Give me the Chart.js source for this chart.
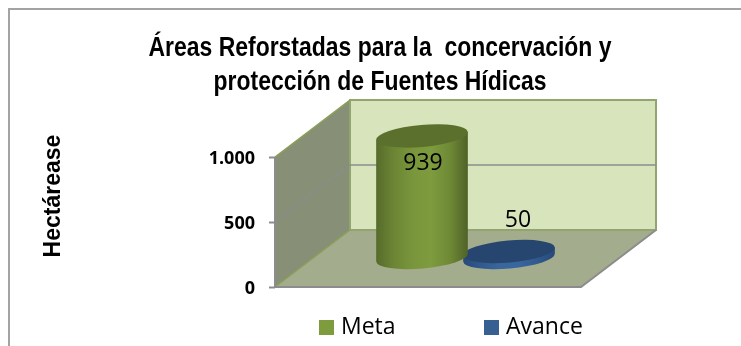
<!DOCTYPE html>
<html>

<head>
    <title>Áreas Reforstadas</title>
    <meta charset="utf-8" />
    <style>
        body { margin: 0; background: #fff; }
        canvas { display: block; }
    </style>
</head>

<body>
    <canvas id="myChart" width="741" height="346"></canvas>

    <script src="https://cdn.jsdelivr.net/npm/chart.js"></script>
    <script type="text/javascript">
        const categories = ['Hectáreas'];
        const metaValues = [939];
        const avanceValues = [50];
        const tickValues = [0, 500, 1000];
        const tickLabels = ['0', '500', '1.000'];
        const titleLines = ['Áreas Reforstadas para la  concervación y', 'protección de Fuentes Hídicas'];
        const axisTitle = 'Hectárease';

        // how far the 3D box and the cylinders are pushed back from the front plane
        const BOX_DX = 75, BOX_DY = -57;
        const BAR_DX = 37.5, BAR_DY = -29;
        const TILT = -5 * Math.PI / 180;
        const TITLE_SQUEEZE = 0.85; // no narrow font installed, so the title is squeezed
        const LABEL_FONT = '23px "Open Sans", sans-serif';

        function polygon(ctx, pts, fill, stroke) {
            ctx.beginPath();
            pts.forEach((p, i) => i ? ctx.lineTo(p[0], p[1]) : ctx.moveTo(p[0], p[1]));
            ctx.closePath();
            ctx.fillStyle = fill;
            ctx.fill();
            if (stroke) {
                ctx.strokeStyle = stroke;
                ctx.lineWidth = 2;
                ctx.stroke();
            }
        }

        function drawCylinder(ctx, cx, topY, baseY, rx, colors) {
            const ry = 11;
            const ex = rx * Math.cos(TILT), ey = rx * Math.sin(TILT);
            const grad = ctx.createLinearGradient(cx - rx, 0, cx + rx, 0);
            colors.stops.forEach((c, i) => grad.addColorStop(i / (colors.stops.length - 1), c));
            ctx.beginPath();
            ctx.moveTo(cx - ex, topY - ey);
            ctx.lineTo(cx - ex, baseY - ey);
            ctx.ellipse(cx, baseY, rx, ry, TILT, Math.PI, 0, true);
            ctx.lineTo(cx + ex, topY + ey);
            ctx.closePath();
            ctx.fillStyle = grad;
            ctx.fill();
            ctx.beginPath();
            ctx.ellipse(cx, topY, rx, ry, TILT, 0, Math.PI * 2);
            ctx.fillStyle = colors.top;
            ctx.fill();
        }

        const cylinderColors = [
            { stops: ['#566b2b', '#6c8635', '#7a963c', '#7e9b3e', '#6f8a36', '#4f6227'], top: '#5c702e' },
            { stops: ['#28497a', '#315a8e', '#3a669e', '#3a669e', '#315a8e', '#28497a'], top: '#27466f' }
        ];
        const labelOffsets = [27, -31];
        const labelShift = [1, 9];

        const box3d = {
            id: 'box3d',
            beforeDraw(chart) {
                const ctx = chart.ctx;
                ctx.save();
                ctx.fillStyle = '#a3a3a3';
                ctx.fillRect(8, 8, chart.width - 8, 2);
                ctx.fillRect(8, 8, 2, chart.height - 8);
                ctx.restore();
                // squeeze the title around its own centre
                const block = chart.titleBlock;
                if (!block._squeezed) {
                    const drawTitle = block.draw.bind(block);
                    block.draw = () => {
                        const mid = (block.left + block.right) / 2;
                        ctx.save();
                        ctx.translate(mid, 0);
                        ctx.scale(TITLE_SQUEEZE, 1);
                        ctx.translate(-mid, 0);
                        drawTitle();
                        ctx.restore();
                    };
                    block._squeezed = true;
                }
            },
            beforeDatasetsDraw(chart) {
                const ctx = chart.ctx;
                const y = chart.scales.y;
                const l = chart.chartArea.left, r = chart.chartArea.right;
                const y0 = y.getPixelForValue(0);
                const yMax = y.getPixelForValue(tickValues[tickValues.length - 1]);
                ctx.save();
                // floor
                polygon(ctx, [[l, y0], [r, y0], [r + BOX_DX, y0 + BOX_DY], [l + BOX_DX, y0 + BOX_DY]], '#a3ad8d');
                // left wall
                polygon(ctx, [[l, y0], [l, yMax], [l + BOX_DX, yMax + BOX_DY], [l + BOX_DX, y0 + BOX_DY]], '#878f77');
                // back wall
                polygon(ctx, [[l + BOX_DX, yMax + BOX_DY], [r + BOX_DX, yMax + BOX_DY], [r + BOX_DX, y0 + BOX_DY], [l + BOX_DX, y0 + BOX_DY]], '#d7e4bc', '#93a56f');
                // gridlines on the walls
                ctx.strokeStyle = '#8c8c8c';
                ctx.lineWidth = 1.5;
                tickValues.slice(1, -1).forEach((v) => {
                    const py = y.getPixelForValue(v);
                    ctx.beginPath();
                    ctx.moveTo(l, py);
                    ctx.lineTo(l + BOX_DX, py + BOX_DY);
                    ctx.lineTo(r + BOX_DX, py + BOX_DY);
                    ctx.stroke();
                });
                // wall edges
                ctx.strokeStyle = '#8aa055';
                ctx.beginPath();
                ctx.moveTo(l, yMax);
                ctx.lineTo(l + BOX_DX, yMax + BOX_DY);
                ctx.moveTo(l, y0);
                ctx.lineTo(l + BOX_DX, y0 + BOX_DY);
                ctx.stroke();
                ctx.strokeStyle = '#8c8c8c';
                ctx.lineWidth = 2;
                ctx.beginPath();
                ctx.moveTo(l, yMax);
                ctx.lineTo(l, y0);
                ctx.lineTo(r, y0);
                ctx.lineTo(r + BOX_DX, y0 + BOX_DY);
                ctx.stroke();
                ctx.restore();
            },
            beforeDatasetDraw(chart, args) {
                const ctx = chart.ctx;
                const bar = args.meta.data[0];
                ctx.save();
                drawCylinder(ctx, bar.x + BAR_DX, bar.y + BAR_DY, bar.base + BAR_DY, bar.width / 2, cylinderColors[args.index]);
                ctx.restore();
                return false;
            },
            afterDatasetsDraw(chart) {
                const ctx = chart.ctx;
                ctx.save();
                ctx.font = LABEL_FONT;
                ctx.fillStyle = '#000';
                ctx.textAlign = 'center';
                ctx.textBaseline = 'middle';
                chart.data.datasets.forEach((ds, i) => {
                    const bar = chart.getDatasetMeta(i).data[0];
                    ctx.fillText(String(ds.data[0]), bar.x + BAR_DX + labelShift[i], bar.y + BAR_DY + labelOffsets[i]);
                });
                // legend: the built-in one cannot space items this far apart without growing tall
                const legendX = [319, 484];
                ctx.textAlign = 'left';
                chart.data.datasets.forEach((ds, i) => {
                    ctx.fillStyle = ds.backgroundColor;
                    ctx.fillRect(legendX[i], 320, 15, 15);
                    ctx.fillStyle = '#000';
                    ctx.fillText(ds.label, legendX[i] + 22, 327);
                });
                ctx.restore();
            }
        };

        new Chart(document.getElementById('myChart'), {
            type: 'bar',
            data: {
                labels: categories,
                datasets: [
                    { label: 'Meta', data: metaValues, backgroundColor: '#7e9b3e' },
                    { label: 'Avance', data: avanceValues, backgroundColor: '#376092' }
                ]
            },
            plugins: [box3d],
            options: {
                responsive: false,
                animation: false,
                categoryPercentage: 0.5686,
                barPercentage: 1.0575,
                layout: { padding: { left: 19, right: 0, top: 0, bottom: 59 } },
                plugins: {
                    legend: { display: false },
                    tooltip: { enabled: false },
                    title: {
                        display: true,
                        text: titleLines,
                        color: '#000',
                        font: { family: '"Liberation Sans", sans-serif', weight: 'bold', size: 27, lineHeight: 1.26 },
                        padding: { top: 32, bottom: 5 }
                    }
                },
                scales: {
                    x: { display: false },
                    y: {
                        min: 0,
                        max: 1400,
                        afterBuildTicks: (s) => { s.ticks = tickValues.map((v) => ({ value: v })); },
                        afterFit: (s) => { s.width = 256; },
                        grid: { drawOnChartArea: false, tickLength: 6, tickColor: '#8c8c8c', tickWidth: 2 },
                        border: { display: false },
                        ticks: {
                            padding: 14,
                            labelOffset: 1.5,
                            color: '#000',
                            font: { family: '"Open Sans", sans-serif', weight: 'bold', size: 18 },
                            callback: (v) => tickLabels[tickValues.indexOf(v)]
                        },
                        title: {
                            display: true,
                            text: axisTitle,
                            color: '#000',
                            font: { family: '"Liberation Sans", sans-serif', weight: 'bold', size: 23 },
                            padding: { top: 21, bottom: 0 }
                        }
                    },
                    // empty axis that only keeps the plot clear of the right side, the title stays centred on the page
                    spacer: {
                        position: 'right',
                        afterFit: (s) => { s.width = 160; },
                        grid: { display: false },
                        border: { display: false },
                        ticks: { display: false }
                    }
                }
            }
        });
    </script>
</body>

</html>
